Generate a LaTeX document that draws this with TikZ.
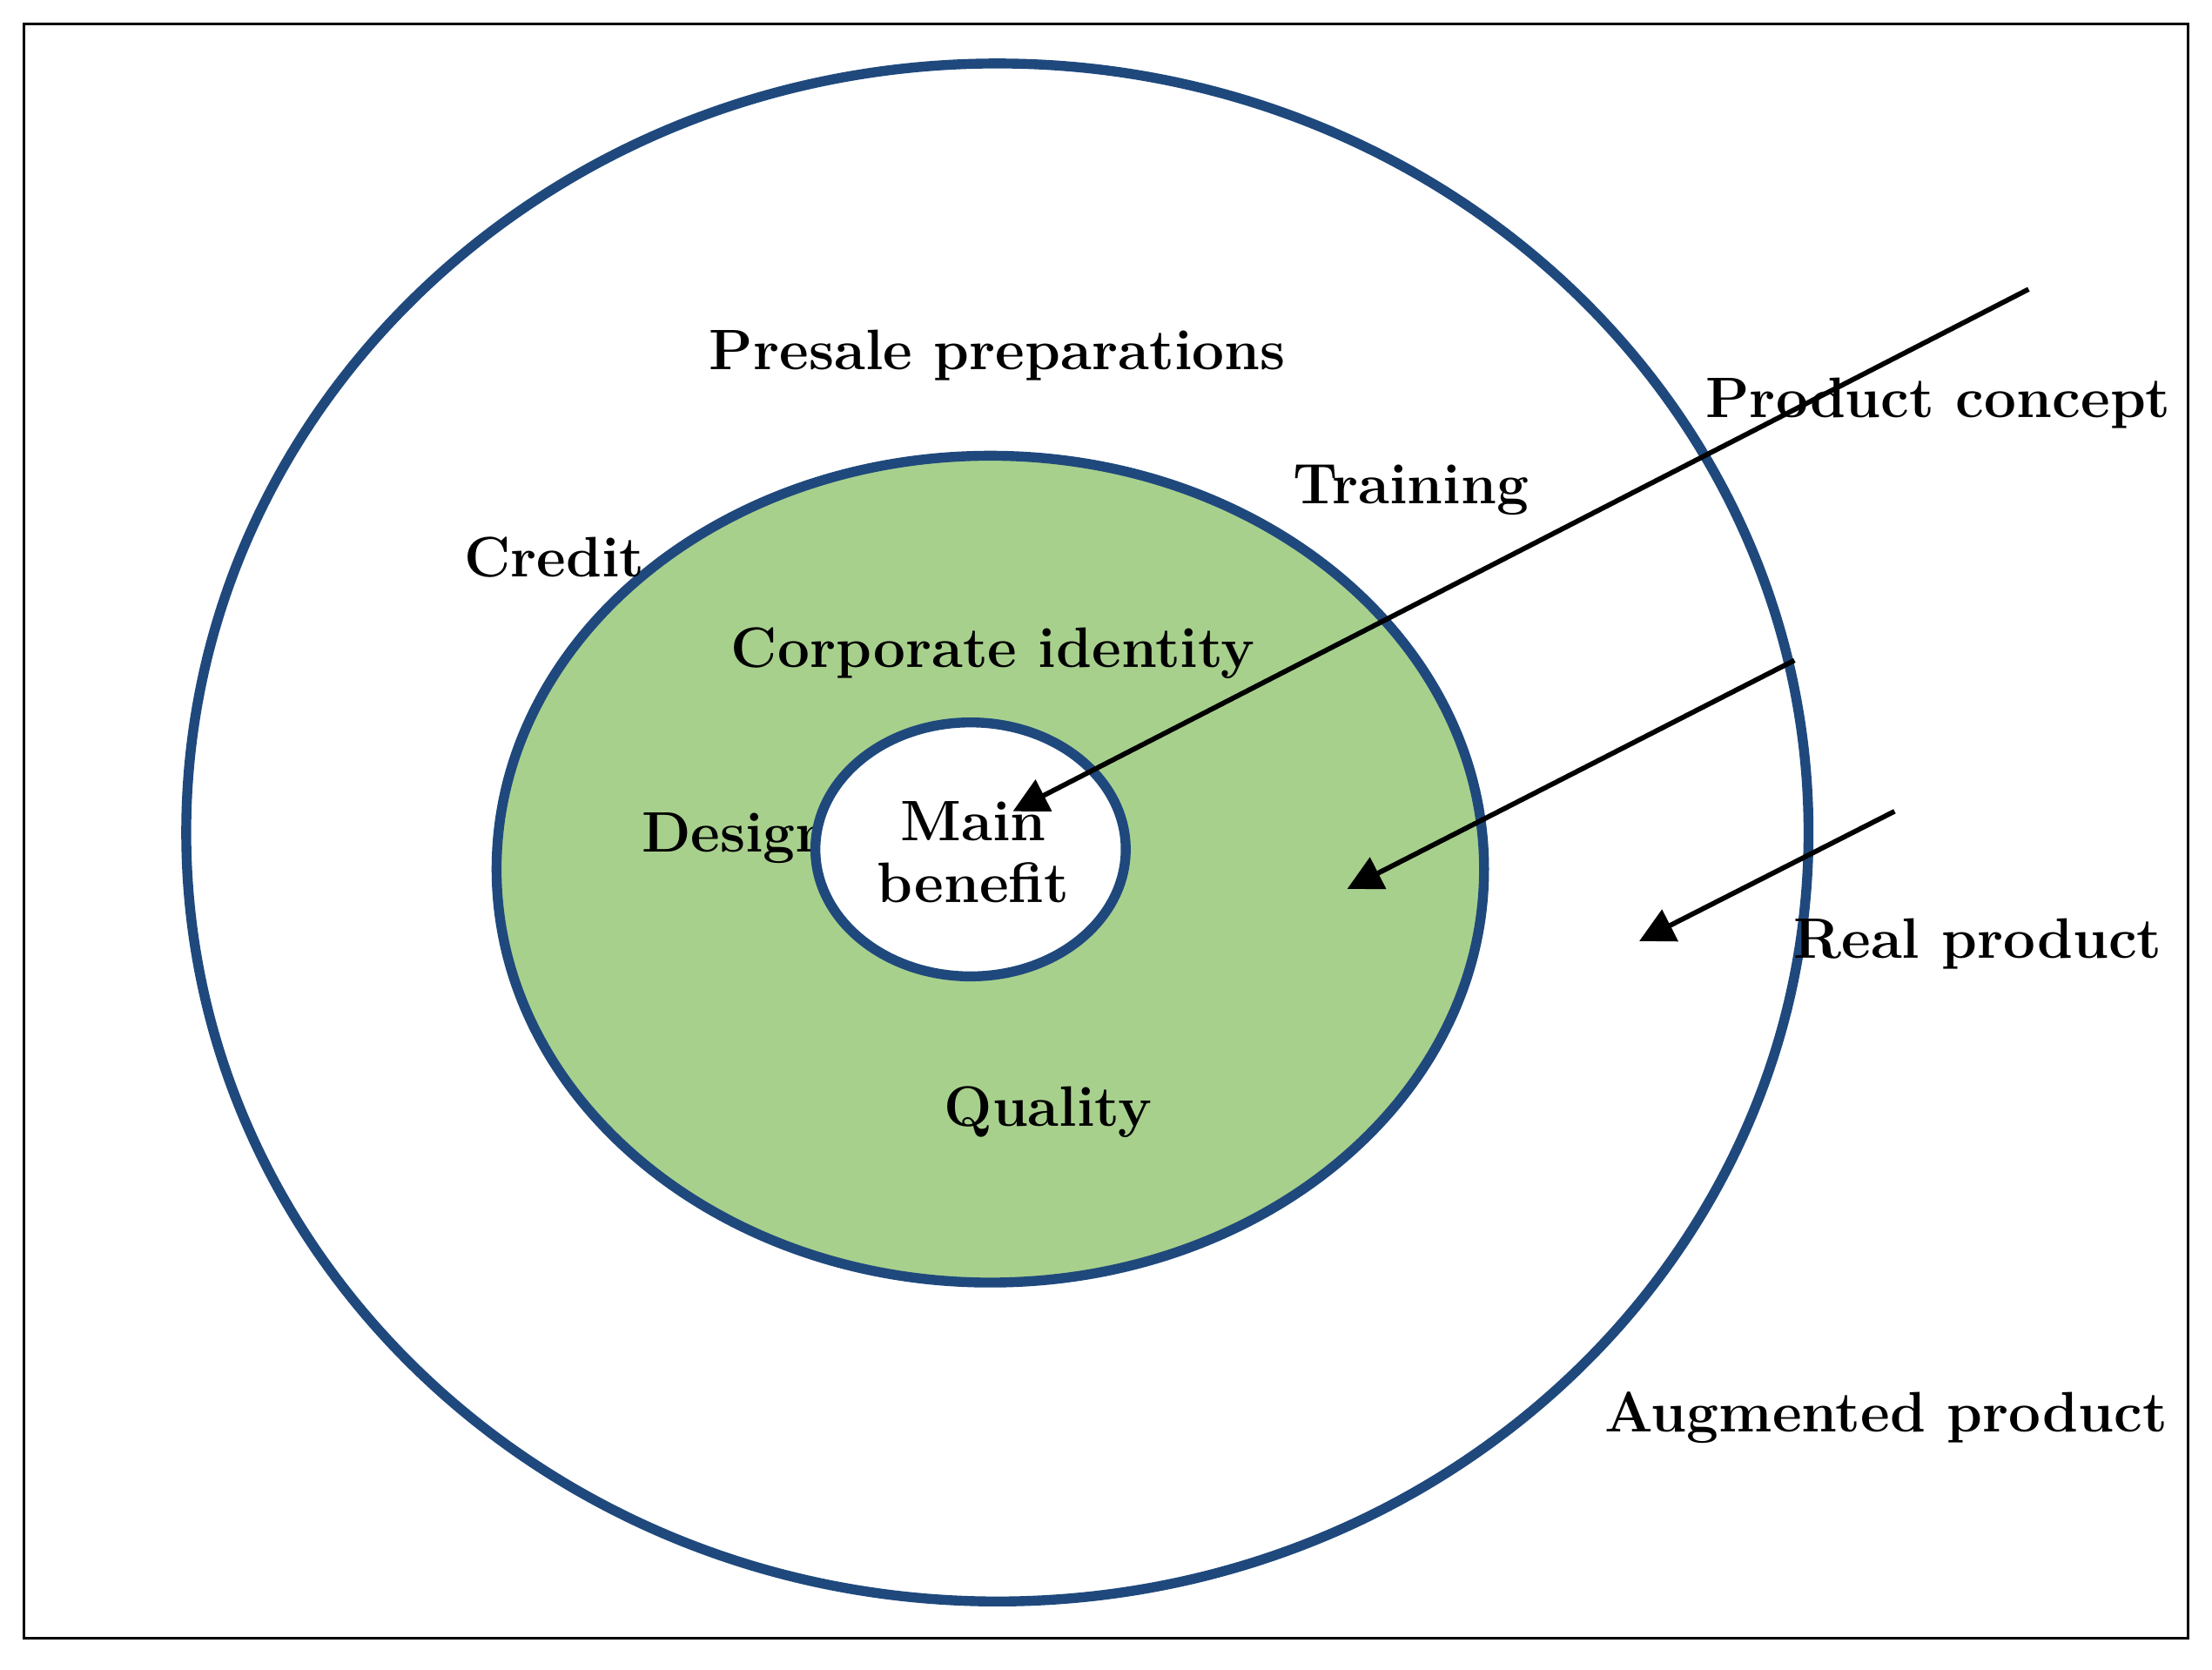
\documentclass[tikz,border=0pt]{standalone}
\usetikzlibrary{arrows.meta}
\begin{document}
\begin{tikzpicture}[x=0.01cm,y=-0.01cm,
  ring/.style={draw=ringblue,line width=2pt},
  lbl/.style={font=\fontsize{11.5}{13}\selectfont\bfseries,inner sep=1pt},
  arr/.style={black,line width=1pt,-{Triangle[length=7pt,width=7pt]}}]
\definecolor{ringblue}{HTML}{1F497D}
\definecolor{ringgreen}{HTML}{A8D08D}
\useasboundingbox (0,0) rectangle (1568,1183);
\draw[line width=0.6pt] (17,17) rectangle (1551,1161);
\draw[ring] (707,590) ellipse [x radius=575, y radius=545];
\draw[ring,fill=ringgreen] (702,616) ellipse [x radius=350, y radius=293];
\node[lbl] (design) at (522,594) {Design};
\draw[ring,fill=white] (688,602) ellipse [x radius=110, y radius=90];
\node[lbl,align=center,font=\fontsize{11.5}{12.5}\selectfont\bfseries] (main) at (690,604) {Main\\benefit};
\node[lbl] (presale) at (707,252) {Presale preparations};
\node[lbl] (concept) at (1374,286) {Product concept};
\node[lbl] (training) at (1000,347) {Training};
\node[lbl] (credit) at (393,395) {Credit};
\node[lbl] (corp) at (704,463) {Corporate identity};
\node[lbl] (real) at (1402,669) {Real product};
\node[lbl] (quality) at (743,788) {Quality};
\node[lbl] (aug) at (1337,1005) {Augmented product};
\coordinate (a1s) at (1438,205); \coordinate (a1e) at (718,575);
\coordinate (a2s) at (1272,468); \coordinate (a2e) at (955,630);
\coordinate (a3s) at (1343,575); \coordinate (a3e) at (1162,667);
\draw[arr] (a1s) -- (a1e);
\draw[arr] (a2s) -- (a2e);
\draw[arr] (a3s) -- (a3e);
\end{tikzpicture}
\end{document}
